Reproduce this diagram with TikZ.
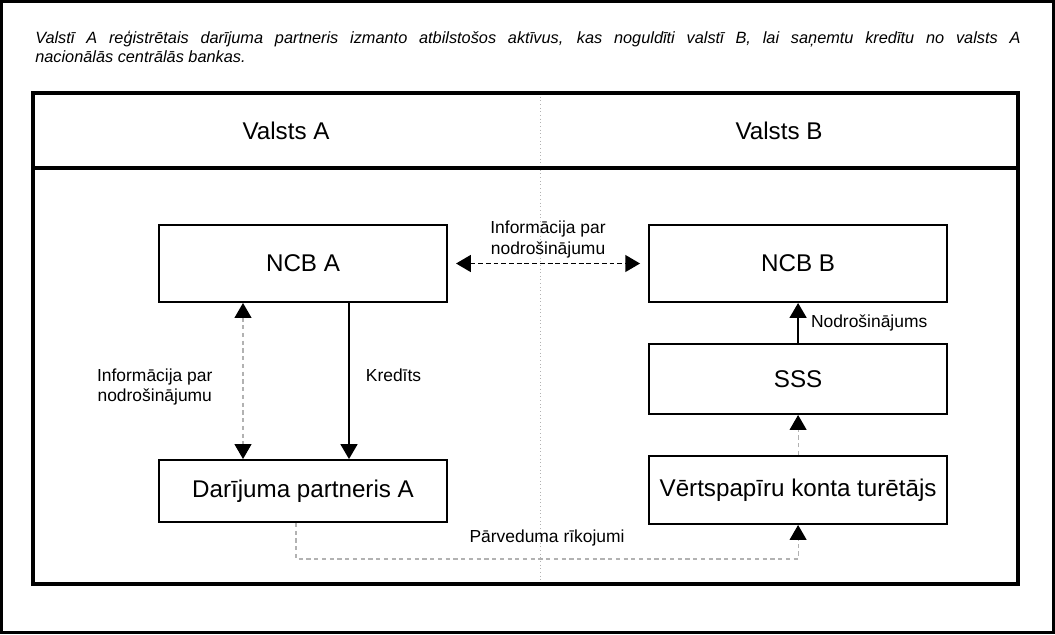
\documentclass[tikz,border=0pt]{standalone}
\usepackage{fontspec}
\setmainfont{Liberation Sans}
\usetikzlibrary{arrows.meta, positioning}
\tikzset{ftri/.tip={Triangle[length=0.37cm, width=0.42cm, color=black]}}

\begin{document}
\begin{tikzpicture}[
    x=0.025cm, y=-0.025cm,
    box/.style={rectangle, draw, line width=1.4pt, inner sep=0pt, minimum width=7.2cm, font=\fontsize{17.2}{20}\selectfont},
    wbox/.style={box, minimum width=7.45cm},
    head/.style={inner sep=0pt, font=\fontsize{17.2}{20}\selectfont},
    lbl/.style={inner sep=0pt, align=center, font=\fontsize{12.4}{14.6}\selectfont},
    frm/.style={line width=2.2pt},
    solidarr/.style={-ftri, line width=1.3pt},
    darkarr/.style={ftri-ftri, line width=1.4pt, dash pattern=on 3.5pt off 2pt},
    grayarr/.style={-ftri, draw=gray!60, line width=0.8pt, dash pattern=on 3pt off 2.5pt},
    grayboth/.style={grayarr, ftri-ftri}
  ]
  \useasboundingbox (0,0) rectangle (1055,634);
  \draw[line width=2.2pt] (1.5,1.5) rectangle (1053.5,632.5);

  % title
  \node[anchor=north west, inner sep=0pt, text width=24.625cm, align=justify,
    font=\fontsize{11.6}{13.6}\selectfont\itshape] (title) at (35,30.5)
    {Valstī A reģistrētais darījuma partneris izmanto atbilstošos aktīvus, kas noguldīti valstī B, lai saņemtu kredītu no valsts A\linebreak nacionālās centrālās bankas.};

  % frame
  \draw[gray!60, line width=0.6pt, dotted] (540,93) -- (540,584);
  \draw[frm] (33,93) rectangle (1018,584);
  \draw[frm] (33,168) -- (1018,168);
  \node[head] (va) at (286,131) {Valsts A};
  \node[head] (vb) at (779,131) {Valsts B};

  % boxes
  \node[box, minimum height=1.925cm] (ncba) at (303,263.5) {NCB A};
  \node[wbox, minimum height=1.925cm, right=5cm of ncba] (ncbb) {NCB B};
  \node[wbox, minimum height=1.75cm, below=1cm of ncbb] (sss) {SSS};
  \node[wbox, minimum height=1.7cm, below=1cm of sss] (vkt) {Vērtspapīru konta turētājs};
  \node[box, minimum height=1.55cm, below=3.9cm of ncba] (dp) {Darījuma partneris A};

  \coordinate (ix) at (243,0);
  \coordinate (kx) at (349,0);
  \coordinate (pa) at (296,559);

  % connectors
  \draw[darkarr, shorten <=0.2cm, shorten >=0.2cm] (ncba.east) --
    node[lbl, above=0.12cm] {Informācija par\\nodrošinājumu} (ncbb.west);
  \draw[grayboth] (ncba.south -| ix) --
    node[lbl, left=0.75cm, yshift=-0.15cm] {Informācija par\\nodrošinājumu} (dp.north -| ix);
  \draw[solidarr] (ncba.south -| kx) --
    node[lbl, right=0.4cm, yshift=0.15cm] {Kredīts} (dp.north -| kx);
  \draw[solidarr] (sss.north) -- node[lbl, right=0.3cm] {Nodrošinājums} (ncbb.south);
  \draw[grayarr] (vkt.north) -- (sss.south);
  \draw[grayarr] (dp.south -| pa) -- (pa) --
    node[lbl, above=0.3cm] {Pārveduma rīkojumi} (pa -| vkt.south) -- (vkt.south);
\end{tikzpicture}
\end{document}
